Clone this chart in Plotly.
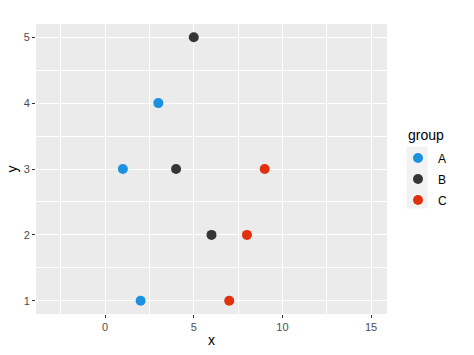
import plotly.graph_objects as go

groups = ["A", "B", "C"]
x_vals = {"A": [1, 2, 3], "B": [4, 5, 6], "C": [7, 8, 9]}
y_vals = {"A": [3, 1, 4], "B": [3, 5, 2], "C": [1, 2, 3]}
colors = {"A": "#1B91DF", "B": "#353535", "C": "#E1300E"}
x_ticks = [0, 5, 10, 15]
y_ticks = [1, 2, 3, 4, 5]

L, R, T, B = 36, 87, 24, 41
W, H = 474, 355
PW, PH = W - L - R, H - T - B

def px_x(p):
    return (p - L) / PW

def px_y(p):
    return (H - B - p) / PH

fig = go.Figure()
for g in groups:
    fig.add_trace(go.Scatter(
        x=x_vals[g], y=y_vals[g], mode="markers", name=g, legendgroup=g,
        marker=dict(color=colors[g], size=10, line=dict(width=0)),
    ))

def axis_common():
    return dict(
        showgrid=True, gridcolor="white", gridwidth=1.1,
        zeroline=False, showline=False, automargin=False,
        ticks="outside", ticklen=3, tickwidth=1, tickcolor="#333333",
        tickfont=dict(family="Liberation Sans, Arial", size=11, color="#4D4D4D"),
    )

fig.update_layout(
    width=W, height=H,
    margin=dict(l=L, r=R, t=T, b=B),
    paper_bgcolor="white", plot_bgcolor="#EBEBEB",
    font=dict(family="Liberation Sans, Arial"),
    xaxis=dict(range=[-3.9, 15.9], tickvals=x_ticks,
               title=dict(text="x", standoff=2, font=dict(size=14, color="black")),
               minor=dict(showgrid=True, gridcolor="white", gridwidth=0.5, dtick=5, tick0=2.5, ticks=""),
               **axis_common()),
    yaxis=dict(range=[0.8, 5.2], tickvals=y_ticks,
               title=dict(text="y", standoff=2, font=dict(size=14, color="black")),
               minor=dict(showgrid=True, gridcolor="white", gridwidth=0.5, dtick=1, tick0=0.5, ticks=""),
               **axis_common()),
    legend=dict(
        font=dict(size=12, color="black"),
        x=px_x(398), xanchor="left", y=px_y(143.5), yanchor="top",
        bgcolor="rgba(0,0,0,0)", itemsizing="trace",
        tracegroupgap=2,
    ),
    shapes=[dict(type="rect", xref="paper", yref="paper",
                 x0=px_x(406.7), x1=px_x(427.7), y0=px_y(208.5), y1=px_y(146.7),
                 fillcolor="#F2F2F2", line=dict(width=0), layer="below")],
    annotations=[dict(text="group", xref="paper", yref="paper",
                      x=px_x(406), y=px_y(135), xanchor="left", yanchor="middle",
                      showarrow=False, font=dict(size=14, color="black"))],
)

fig.write_html("out.html")
